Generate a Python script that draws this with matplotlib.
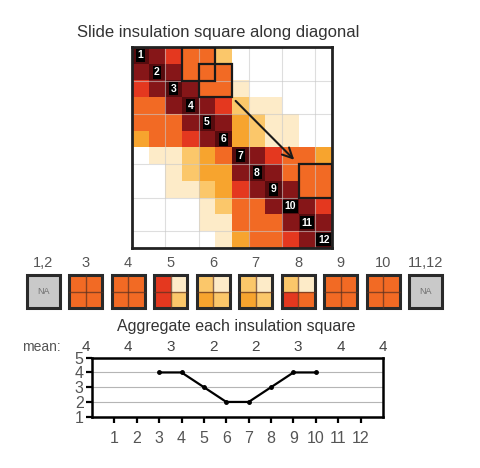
import numpy as np
import matplotlib
matplotlib.use('Agg')
import matplotlib.pyplot as plt
from matplotlib.colors import ListedColormap
from matplotlib.patches import Rectangle

plt.rcParams['font.family'] = ['Liberation Sans', 'DejaVu Sans']

# contact level per bin pair: 0 = white ... 6 = dark, 7 = diagonal
heat = np.array([
    [7, 6, 5, 4, 4, 2, 0, 0, 0, 0, 0, 0],
    [6, 7, 6, 4, 4, 4, 0, 0, 0, 0, 0, 0],
    [5, 6, 7, 6, 4, 4, 1, 0, 0, 0, 0, 0],
    [4, 4, 6, 7, 6, 5, 2, 1, 1, 0, 0, 0],
    [4, 4, 4, 6, 7, 6, 3, 2, 1, 1, 0, 0],
    [3, 4, 4, 5, 6, 7, 3, 2, 1, 1, 0, 0],
    [0, 1, 1, 2, 3, 4, 7, 6, 5, 4, 4, 3],
    [0, 0, 1, 2, 3, 3, 6, 7, 6, 4, 4, 4],
    [0, 0, 1, 1, 2, 3, 5, 6, 7, 6, 4, 4],
    [0, 0, 0, 0, 1, 2, 4, 4, 6, 7, 6, 5],
    [0, 0, 0, 0, 1, 1, 4, 4, 4, 6, 7, 6],
    [0, 0, 0, 0, 0, 1, 3, 4, 4, 5, 6, 7],
])
palette = ['#ffffff', '#fdebc8', '#fbc76a', '#f7a42e', '#f26a24',
           '#e4381f', '#861618', '#560b0e']

box_cells = [(0, 3), (1, 4), (7, 10)]  # (row, col) of each drawn square
arrow_start = (6.1, 3.1)
arrow_end = (9.85, 6.85)

square_labels = ['1,2', '3', '4', '5', '6', '7', '8', '9', '10', '11,12']
# levels of the 2x2 cells: top-left, top-right, bottom-left, bottom-right
square_levels = [None, [4, 4, 4, 4], [4, 4, 4, 4], [5, 1, 5, 2], [2, 1, 3, 2],
                 [2, 1, 3, 2], [2, 1, 5, 4], [4, 4, 4, 4], [4, 4, 4, 4], None]
mean_values = [4, 4, 3, 2, 2, 3, 4, 4]

bins = list(range(1, 13))
line_values = [np.nan, np.nan, 4, 4, 3, 2, 2, 3, 4, 4, np.nan, np.nan]

W, H = 481, 468
fig = plt.figure(figsize=(W / 100, H / 100), dpi=100)

fig.text(218 / W, 1 - 32 / H, 'Slide insulation square along diagonal',
         ha='center', va='center', fontsize=12, color='#333333')

# heatmap
ax = fig.add_axes([132 / W, 1 - 248 / H, 200 / W, 201 / H])
ax.imshow(heat, cmap=ListedColormap(palette), vmin=-0.5, vmax=7.5,
          extent=(0, 12, 12, 0), interpolation='nearest', aspect='auto')
for g in [2, 4, 7, 9, 11]:
    ax.axvline(g, color='#c8c8c8', lw=0.8, alpha=0.6, zorder=1)
    ax.axhline(g, color='#c8c8c8', lw=0.8, alpha=0.6, zorder=1)
for r, c in box_cells:
    ax.add_patch(Rectangle((c, r), 2, 2, fill=False, lw=1.6, ec='#1a1a1a', zorder=3))
ax.annotate('', xy=arrow_end, xytext=arrow_start,
            arrowprops=dict(arrowstyle='->', lw=1.5, color='#1a1a1a', mutation_scale=18))
for i in range(12):
    ax.text(i + 0.5, i + 0.5, str(i + 1), color='white', fontsize=7.5, fontweight='bold',
            ha='center', va='center', zorder=4,
            bbox=dict(boxstyle='square,pad=0.15', fc='black', ec='none'))
ax.set_xlim(0, 12)
ax.set_ylim(12, 0)
ax.set_xticks([])
ax.set_yticks([])
for s in ax.spines.values():
    s.set_linewidth(2)
    s.set_color('#222222')

# row of aggregated squares
unit = 42.5
sq = fig.add_axes([21.75 / W, 1 - 355 / H, 425 / W, 105 / H])
sq.set_xlim(-0.5, 9.5)
sq.set_ylim(0, 105 / unit)
sq.axis('off')
size = 33 / unit
y0 = (355 - 308) / unit
half = size / 2
for i, lv in enumerate(square_levels):
    x0 = i - half
    if lv is None:
        sq.add_patch(Rectangle((x0, y0), size, size, fc='#c9c9c9', ec='none'))
        sq.text(i, y0 + half, 'NA', ha='center', va='center', fontsize=6.5, color='#707070')
    else:
        cells = [(x0, y0 + half), (x0 + half, y0 + half), (x0, y0), (x0 + half, y0)]
        for (cx, cy), v in zip(cells, lv):
            sq.add_patch(Rectangle((cx, cy), half, half, fc=palette[v], ec='none'))
        sq.plot([i, i], [y0, y0 + size], color='#5a3020', lw=1.0, alpha=0.7)
        sq.plot([x0, x0 + size], [y0 + half, y0 + half], color='#5a3020', lw=1.0, alpha=0.7)
    sq.add_patch(Rectangle((x0, y0), size, size, fill=False, lw=2.2, ec='#2a2a2a'))
    sq.text(i, (355 - 263) / unit, square_labels[i], ha='center', va='center',
            fontsize=10.5, color='#555555')

sq.text(-0.05, (355 - 347) / unit, 'mean:', ha='center', va='center',
        fontsize=10, color='#555555')
for k, m in enumerate(mean_values):
    sq.text(k + 1, (355 - 347) / unit, str(m), ha='center', va='center',
            fontsize=11, color='#444444')

fig.text(236 / W, 1 - 327 / H, 'Aggregate each insulation square',
         ha='center', va='center', fontsize=11.5, color='#333333')

# line of means
lx = fig.add_axes([92 / W, 1 - 416.7 / H, 291 / W, 59 / H])
lx.plot(bins, line_values, color='black', lw=1.6, marker='o', ms=2.5)
lx.set_xlim(0, 13)
lx.set_ylim(1, 5)
lx.set_xticks(bins)
lx.set_yticks([1, 2, 3, 4, 5])
lx.yaxis.grid(True, color='#b5b5b5', lw=0.8)
lx.tick_params(axis='both', labelsize=11.5, labelcolor='#555555', direction='out',
               length=4, width=1.6, color='black', pad=2)
lx.tick_params(axis='x', pad=6)
for s in lx.spines.values():
    s.set_linewidth(1.8)

fig.savefig('out.png', dpi=100)
